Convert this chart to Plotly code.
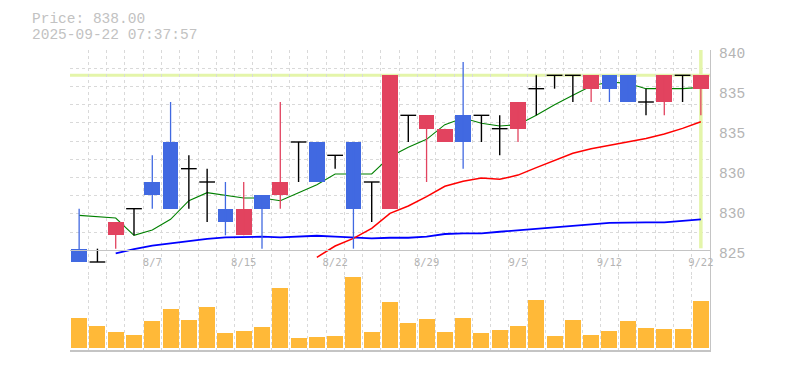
import plotly.graph_objects as go

# ---------------- data ----------------
dates = ['8/1', '8/4', '8/5', '8/6', '8/7', '8/8', '8/12', '8/13', '8/14', '8/15',
         '8/18', '8/19', '8/20', '8/21', '8/22', '8/25', '8/26', '8/27', '8/28', '8/29',
         '9/1', '9/2', '9/3', '9/4', '9/5', '9/8', '9/9', '9/10', '9/11', '9/12',
         '9/16', '9/17', '9/18', '9/19', '9/22']
opens = [825, 824, 826, 828, 830, 833, 831, 830, 828, 826,
         829, 829, 833, 833, 832, 833, 830, 828, 835, 834,
         833, 835, 835, 834, 834, 837, 838, 838, 837, 838,
         838, 836, 836, 838, 837]
highs = [828, 825, 827, 828, 832, 836, 832, 831, 830, 830,
         829, 836, 833, 833, 832, 833, 830, 838, 835, 835,
         834, 839, 835, 835, 836, 838, 838, 838, 838, 838,
         838, 837, 838, 838, 838]
lows = [824, 824, 825, 826, 828, 828, 828, 827, 826, 826,
        825, 828, 830, 830, 831, 825, 827, 828, 833, 830,
        833, 831, 833, 832, 833, 835, 837, 836, 836, 836,
        836, 835, 835, 836, 835]
closes = [824, 824, 827, 828, 829, 828, 831, 830, 827, 828,
          828, 830, 833, 830, 832, 828, 830, 838, 835, 835,
          834, 833, 835, 834, 836, 837, 838, 838, 838, 837,
          836, 836, 838, 838, 838]
volumes = [3000, 2200, 1600, 1300, 2700, 3900, 2800, 4100, 1500, 1700,
           2100, 6000, 1000, 1100, 1200, 7100, 1600, 4600, 2500, 2900,
           1600, 3000, 1500, 1800, 2200, 4800, 1200, 2800, 1300, 1700,
           2700, 2000, 1900, 1900, 4700]
ma_short = [827.5, 827.4, 827.3, 826.0, 826.4, 827.2, 828.6, 829.2, 829.0, 828.8,
            828.8, 828.6, 829.2, 829.8, 830.6, 830.6, 830.6, 831.9, 832.6, 833.2,
            834.3, 834.8, 834.4, 834.2, 834.3, 835.0, 835.8, 836.5, 837.2, 837.5,
            837.4, 837.0, 837.0, 837.0, 837.1]
ma_mid = [None] * 13 + [824.35, 825.2, 825.77, 826.52, 827.65, 828.2, 828.9,
                        829.68, 830.05, 830.3, 830.2, 830.52, 831.08, 831.62, 832.15,
                        832.5, 832.75, 833.02, 833.27, 833.6, 834.02, 834.52]
ma_long = [None] * 2 + [824.65, 824.97, 825.22, 825.4, 825.57, 825.74, 825.85, 825.87,
                        825.9, 825.85, 825.9, 825.97, 825.9, 825.82, 825.77, 825.82,
                        825.82, 825.91, 826.1, 826.15, 826.15, 826.27, 826.37, 826.5,
                        826.57, 826.7, 826.82, 826.94, 826.97, 826.97, 826.97, 827.07,
                        827.2]
x_label_dates = ['8/7', '8/15', '8/22', '8/29', '9/5', '9/12', '9/22']
y_tick_text = ['840', '835', '835', '830', '830', '825']
current_price = 838.00
timestamp = '2025-09-22 07:37:57'

# ---------------- layout constants (screen pixels) ----------------
PAGE_OFF = 8                    # default body margin of the html page
WIN_W, WIN_H = 785, 370
W, H = WIN_W - 2 * PAGE_OFF, WIN_H - 2 * PAGE_OFF
PLOT_L, PLOT_T, PLOT_W, PLOT_H = 70, 50, 640, 300   # on screen
ML, MT = PLOT_L - PAGE_OFF, PLOT_T - PAGE_OFF
MR, MB = W - ML - PLOT_W, H - MT - PLOT_H

UNIT_PER_PX = 0.075             # price units per pixel
PRICE_TOP = 839.9
VOL_PX = 74                     # height of volume panel (px)
price_dom_px = PLOT_H - VOL_PX
price_range = [PRICE_TOP - price_dom_px * UNIT_PER_PX, PRICE_TOP]
base_px = 200.3                 # gray base line below top of plot
base_price = PRICE_TOP - base_px * UNIT_PER_PX
n_grid = 11
grid_vals = [base_price + k * (PRICE_TOP - base_price) / n_grid for k in range(1, n_grid + 1)]
label_px = [3 + 40 * k for k in range(len(y_tick_text))]
label_vals = [PRICE_TOP - p * UNIT_PER_PX for p in label_px]
vol_range = [-200, (VOL_PX - 2) * 100]
vol_dom_top = VOL_PX / PLOT_H


def py(screen_y):
    return (PLOT_T + PLOT_H - screen_y) / PLOT_H


def px(screen_x):
    return (screen_x - PLOT_L) / PLOT_W


RED = '#e2435f'
BLUE = '#4169e1'
ORANGE = '#ffb938'
YELLOW = '#e4f5aa'
GRID = '#d9d9d9'
AXIS = '#c4c4c4'
TXT = '#b4b4b4'
MONO = 'Liberation Mono, DejaVu Sans Mono, monospace'

n = len(dates)
xs = list(range(n))
BODY_W = 0.86

up = [i for i in xs if closes[i] > opens[i]]
dn = [i for i in xs if closes[i] < opens[i]]
dj = [i for i in xs if closes[i] == opens[i]]


def wick_xy(idx):
    wx, wy = [], []
    for i in idx:
        wx += [i, i, None]
        wy += [lows[i], highs[i], None]
    return wx, wy


fig = go.Figure()

# volume
fig.add_trace(go.Bar(x=xs, y=volumes, marker_color=ORANGE, marker_line_width=0,
                     width=0.875, xaxis='x', yaxis='y2', hoverinfo='skip'))

# moving averages (base price subplot, under candles)
fig.add_trace(go.Scatter(x=xs, y=ma_long, mode='lines', line=dict(color='#0000ff', width=1.8),
                         xaxis='x', yaxis='y', hoverinfo='skip'))
fig.add_trace(go.Scatter(x=xs, y=ma_mid, mode='lines', line=dict(color='#ff0000', width=1.5),
                         xaxis='x', yaxis='y', hoverinfo='skip'))
fig.add_trace(go.Scatter(x=xs, y=ma_short, mode='lines', line=dict(color='#008000', width=1.1),
                         xaxis='x', yaxis='y', hoverinfo='skip'))

# dummy trace to register the date-label axis
fig.add_trace(go.Scatter(x=[0], y=[None], mode='lines', xaxis='x2', yaxis='y',
                         hoverinfo='skip', showlegend=False))

# candles on overlay subplot (drawn above MA lines)
for idx, col in ((up, RED), (dn, BLUE)):
    fig.add_trace(go.Bar(x=idx, base=[min(opens[i], closes[i]) for i in idx],
                         y=[abs(closes[i] - opens[i]) for i in idx],
                         width=BODY_W, marker_color=col, marker_line_width=0,
                         xaxis='x', yaxis='y3', hoverinfo='skip'))
    wx, wy = wick_xy(idx)
    fig.add_trace(go.Scatter(x=wx, y=wy, mode='lines', line=dict(color=col, width=1.3),
                             xaxis='x', yaxis='y3', hoverinfo='skip'))

wx, wy = wick_xy(dj)
dx, dy = [], []
for i in dj:
    dx += [i - BODY_W / 2, i + BODY_W / 2, None]
    dy += [opens[i], opens[i], None]
fig.add_trace(go.Scatter(x=wx + dx, y=wy + dy, mode='lines', line=dict(color='#000000', width=1.4),
                         xaxis='x', yaxis='y3', hoverinfo='skip'))

label_idx = [dates.index(d) for d in x_label_dates]

fig.update_layout(
    width=W, height=H, margin=dict(l=ML, r=MR, t=MT, b=MB, pad=0),
    paper_bgcolor='white', plot_bgcolor='white', showlegend=False,
    barmode='overlay', bargap=0,
    xaxis=dict(domain=[0, 1], range=[-0.5, n - 0.5], anchor='y2',
               tickmode='array', tickvals=[i - 0.5 for i in range(n + 1)],
               showticklabels=False, ticks='', showgrid=True, gridcolor=GRID,
               griddash='3px,3px', gridwidth=1, zeroline=False,
               showline=True, linecolor=AXIS, linewidth=1.5, mirror=False),
    xaxis2=dict(overlaying='x', anchor='free', position=(PLOT_H - base_px) / PLOT_H,
                range=[-0.5, n - 0.5], tickmode='array', tickvals=label_idx,
                ticktext=x_label_dates, ticks='', showgrid=False, zeroline=False,
                showline=True, linecolor=AXIS, linewidth=1.4,
                tickfont=dict(family='DejaVu Sans Mono, monospace', size=10.5, color=TXT),
                ticklabelstandoff=2),
    yaxis=dict(domain=[vol_dom_top, 1], range=price_range, side='right', anchor='x',
               tickmode='array', tickvals=grid_vals, showticklabels=False, ticks='',
               showgrid=True, gridcolor=GRID, griddash='3px,3px', gridwidth=1,
               zeroline=False, showline=True, linecolor=AXIS, linewidth=1.4),
    yaxis3=dict(overlaying='y', range=price_range, side='right', anchor='x',
                tickmode='array', tickvals=label_vals, ticktext=y_tick_text, ticks='',
                showgrid=False, zeroline=False, showline=False,
                tickfont=dict(family=MONO, size=14.5, color=TXT),
                ticklabelstandoff=8),
    yaxis2=dict(domain=[0, vol_dom_top], range=vol_range, side='right', anchor='x',
                showticklabels=False, ticks='', showgrid=False, zeroline=False,
                showline=True, linecolor=AXIS, linewidth=1.4),
    shapes=[
        dict(type='line', xref='paper', x0=0, x1=1, yref='y', y0=current_price, y1=current_price,
             line=dict(color=YELLOW, width=3), layer='between'),
        dict(type='line', xref='x', x0=n - 1, x1=n - 1, yref='y', y0=base_price + 0.15, y1=PRICE_TOP,
             line=dict(color=YELLOW, width=3.5), layer='between'),
    ],
    annotations=[
        dict(text=f'Price: {current_price:.2f}', xref='paper', yref='paper',
             x=px(30), y=py(18.8), xanchor='left', yanchor='middle', showarrow=False,
             font=dict(family=MONO, size=14.5, color='#c2c2c2')),
        dict(text=timestamp, xref='paper', yref='paper',
             x=px(30), y=py(35.4), xanchor='left', yanchor='middle', showarrow=False,
             font=dict(family=MONO, size=14.5, color='#c2c2c2')),
    ],
)

fig.write_html('out.html')
